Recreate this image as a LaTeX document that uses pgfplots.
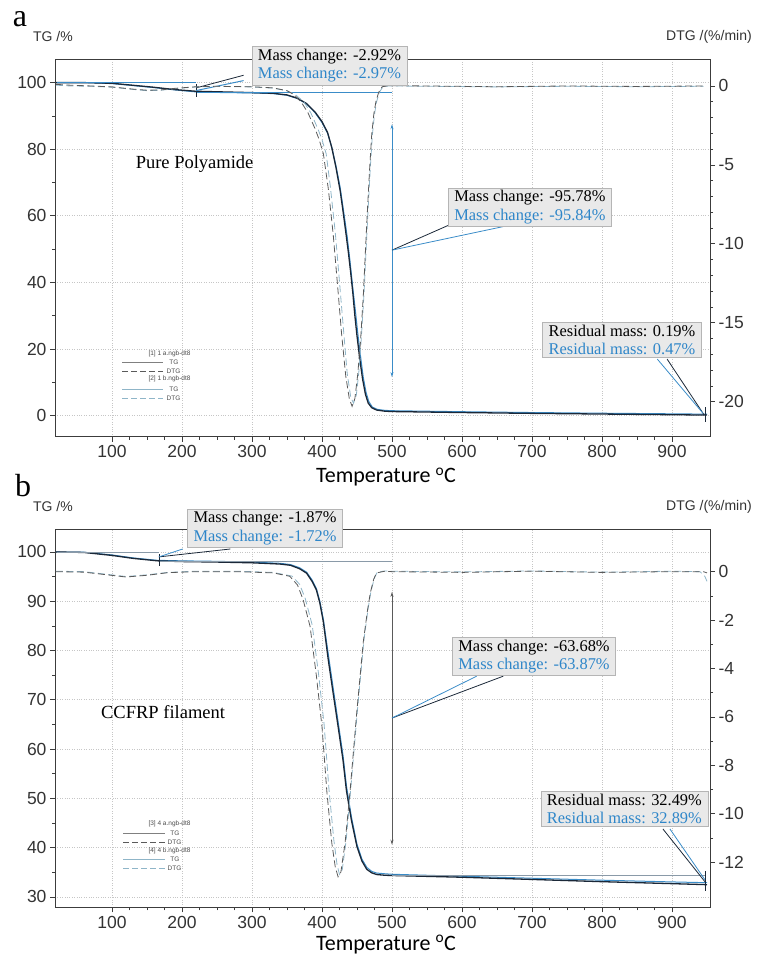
\documentclass[border=0pt]{standalone}
\usepackage{fontspec}
\setmainfont{Liberation Serif}
\setsansfont{Liberation Sans}
\newfontfamily\calibri{Carlito}
\usepackage{pgfplots}
\pgfplotsset{compat=1.18}
\usetikzlibrary{arrows.meta}

\definecolor{tgk}{HTML}{1B2838}
\definecolor{tgb}{HTML}{3A8CC8}
\definecolor{dtgk}{HTML}{5A5A5A}
\definecolor{dtgb}{HTML}{8FB5C8}
\definecolor{anb}{HTML}{2E86C9}
\definecolor{boxf}{HTML}{E9E9E9}
\definecolor{boxd}{HTML}{B5B5B5}
\definecolor{axc}{HTML}{3C3C3C}
\definecolor{lvl}{HTML}{8A9AA8}

\pgfplotsset{
  common/.style={scale only axis, width=655pt, xmin=18.6, xmax=954.3, clip=false,
    axis line style={axc, line width=0.9pt}, tick style={axc, line width=0.7pt},
    tick align=outside, major tick length=5pt, minor tick length=3pt,
    ticklabel style={font=\sffamily\fontsize{17.5}{17.5}\selectfont, text=black!80},
    /pgf/number format/assume math mode=true},
  tgaxis/.style={common, xtick pos=bottom, ytick pos=left, xtick={100,200,...,900}, minor x tick num=3,
    grid=major, major grid style={dotted, gray!45, line width=0.7pt}},
  dtgaxis/.style={common, axis y line*=right, axis x line=none},
}
\tikzset{
  annbox/.style={draw=boxd, fill=boxf, line width=0.6pt, font=\fontsize{16.4}{18.5}\selectfont,
    align=left, inner xsep=6pt, inner ysep=2.5pt},
  legtxt/.style={font=\sffamily\fontsize{6.5}{7}\selectfont, text=black!70},
}

\begin{document}
\begin{tikzpicture}
\useasboundingbox (0,0) rectangle (756pt,958pt);

%% ---------------- panel a : pure polyamide
\begin{axis}[tgaxis, at={(55pt,521.3pt)}, anchor=south west, height=377.4pt,
  ymin=-6.3, ymax=107, ytick={0,20,...,100}, minor y tick num=1]
\addplot[tgb, line width=1pt] coordinates {
(20,100.0) (60,100.0) (100,99.7) (130,99.1) (160,98.5) (190,97.8) (220,97.2) (260,97.0) (300,96.9)
(330,96.7) (350,96.2) (365,95.2) (378,93.6) (390,91.0) (400,88.0) (408,84.8) (414,80.6) (420,75.0)
(426,68.5) (432,59.8) (436,53.8) (440,46.5) (444,38.5) (448,31) (451,25) (455,18) (459,11.5) (463,7)
(467,4.2) (472,2.6) (479,1.9) (490,1.6) (500,1.5) (600,1.2) (700,0.95) (800,0.75) (900,0.57) (950,0.47)};
\addplot[tgk, line width=1.3pt] coordinates {
(20,100.0) (60,100.0) (100,99.8) (130,99.2) (160,98.6) (190,97.9) (220,97.4) (260,97.2) (300,97.0)
(330,96.8) (350,96.3) (365,95.3) (378,93.7) (390,91.2) (400,88.3) (408,85.0) (414,80.5) (420,74.5)
(426,67.5) (430,61.5) (435,53.5) (438,48.5) (441,43) (444,37) (447,30) (450,24) (454,17) (458,11)
(462,6.5) (466,3.8) (471,2.4) (478,1.7) (490,1.35) (500,1.25) (600,0.95) (700,0.7) (800,0.5) (900,0.3) (950,0.19)};
% evaluation marks
\draw[tgb, line width=0.6pt] (axis cs:22,100) -- (axis cs:220,100);
\draw[tgb, line width=0.6pt] (axis cs:220,97.08) -- (axis cs:500,97.08);
\draw[tgk, line width=0.6pt] (axis cs:220,99.5) -- (axis cs:220,95.8);
\draw[tgb, line width=0.6pt, {Stealth[length=5pt,width=3pt]}-{Stealth[length=5pt,width=3pt]}] (axis cs:500,87.5) -- (axis cs:500,11.6);
\draw[tgk, line width=0.8pt] (axis cs:220,98.4) -- (axis cs:288,102.2);
\draw[tgb, line width=1pt] (axis cs:220,97.6) -- (axis cs:288,100.6);
\draw[tgk, line width=0.8pt] (axis cs:500,49.7) -- (axis cs:607,59.6);
\draw[tgb, line width=0.8pt] (axis cs:500,49.7) -- (axis cs:664,57.0);
\draw[tgk, line width=0.8pt] (axis cs:893,17.0) -- (axis cs:946,0.2);
\draw[tgb, line width=0.8pt] (axis cs:879,17.0) -- (axis cs:944,0.8);
\draw[tgk, line width=0.6pt] (axis cs:947,2.5) -- (axis cs:947,-1.8);
\node[font=\fontsize{18.5}{18.5}\selectfont] at (axis cs:218,75.5) {Pure Polyamide};
\coordinate (a1) at (axis cs:410.7,105.1);
\coordinate (a2) at (axis cs:697,62.6);
\coordinate (a3) at (axis cs:828.6,22.7);
\end{axis}
\begin{axis}[dtgaxis, at={(55pt,521.3pt)}, anchor=south west, height=377.4pt,
  ymin=-22.22, ymax=1.69, ytick={-20,-15,...,0}, minor y tick num=4]
\addplot[dtgb, line width=0.8pt, dash pattern=on 7pt off 3.5pt] coordinates {
(20,0.05) (40,0.0) (70,-0.02) (100,-0.08) (130,-0.22) (150,-0.3) (170,-0.27) (190,-0.17) (220,-0.06)
(250,-0.03) (300,-0.06) (330,-0.14) (350,-0.3) (362,-0.55) (374,-1.0) (384,-1.7) (394,-2.7) (400,-3.4)
(406,-4.3) (412,-6.4) (419,-9.3) (425,-12.4) (431,-15.6) (436,-18.2) (441,-19.7) (445,-20.1) (449,-19.6)
(452.5,-18.2) (456,-16.1) (460,-13.2) (463,-10.4) (466,-7.7) (469,-5.2) (472,-3.1) (475,-1.8) (478,-1.0)
(482,-0.4) (487,-0.05) (495,0.0) (550,-0.02) (650,-0.06) (750,-0.02) (850,-0.05) (945,-0.02)};
\addplot[dtgk, line width=0.8pt, dash pattern=on 7pt off 3.5pt] coordinates {
(20,0.1) (40,0.05) (70,0.0) (100,-0.06) (130,-0.2) (150,-0.27) (170,-0.25) (190,-0.15) (220,-0.05)
(250,-0.02) (300,-0.05) (330,-0.12) (350,-0.3) (360,-0.55) (370,-1.0) (380,-1.7) (390,-2.7) (396,-3.4)
(402,-4.3) (409,-6.5) (416,-9.4) (422,-12.5) (428,-15.7) (434,-18.4) (439,-19.8) (443,-20.3) (447,-19.8)
(451,-18.3) (455,-16.2) (459,-13.3) (462,-10.5) (465,-7.8) (468,-5.3) (471,-3.1) (474,-1.8) (477,-1.0)
(481,-0.4) (486,-0.05) (495,0.02) (550,0.0) (650,-0.05) (750,0.0) (850,-0.03) (945,0.0)};
\end{axis}

%% ---------------- panel b : CCFRP filament
\begin{axis}[tgaxis, at={(55pt,50.7pt)}, anchor=south west, height=378pt,
  ymin=27.9, ymax=104.6, ytick={30,40,...,100}, minor y tick num=1]
\addplot[tgb, line width=1pt] coordinates {
(20,100) (60,99.95) (100,99.4) (130,98.8) (165,98.3) (200,98.2) (250,98.1) (300,97.95) (340,97.7)
(355,97.45) (368,96.8) (378,95.9) (386,94.3) (392,92.6) (397,90.0) (402,86.3) (409,79.3) (416,72.4)
(423,65.6) (430,58.8) (435,52.5) (442,46.3) (450,40.7) (457,37.7) (464,36.0) (471,35.2) (478,34.85)
(490,34.7) (500,34.6) (600,34.2) (700,33.8) (800,33.4) (900,33.05) (950,32.89)};
\addplot[tgk, line width=1.3pt] coordinates {
(20,100) (60,99.9) (100,99.3) (130,98.7) (165,98.2) (200,98.05) (250,97.95) (300,97.8) (340,97.55)
(355,97.3) (368,96.6) (378,95.7) (386,94.0) (392,92.3) (397,89.6) (402,85.8) (409,78.1) (416,71.3)
(423,64.6) (430,57.8) (435,51.5) (442,45.6) (450,40.2) (457,37.3) (464,35.6) (471,34.9) (478,34.55)
(490,34.4) (500,34.35) (600,34.0) (700,33.55) (800,33.1) (900,32.7) (950,32.49)};
% evaluation marks
\draw[lvl, line width=0.8pt] (axis cs:22,100) -- (axis cs:167,100);
\draw[lvl, line width=1pt] (axis cs:167,98.15) -- (axis cs:500,98.15);
\draw[lvl, line width=0.6pt] (axis cs:500,34.35) -- (axis cs:948,34.35);
\draw[tgk, line width=0.6pt] (axis cs:167,99.5) -- (axis cs:167,97.2);
\draw[dtgk, line width=0.6pt, {Stealth[length=5pt,width=3pt]}-{Stealth[length=5pt,width=3pt]}] (axis cs:500,91.9) -- (axis cs:500,40.6);
\draw[tgk, line width=0.8pt] (axis cs:167,99.0) -- (axis cs:269,100.6);
\draw[tgb, line width=0.8pt] (axis cs:167,99.0) -- (axis cs:201,100.6);
\draw[tgk, line width=0.8pt] (axis cs:500,66.3) -- (axis cs:659,74.8);
\draw[tgb, line width=0.8pt] (axis cs:500,66.3) -- (axis cs:621,74.8);
\draw[tgk, line width=0.8pt] (axis cs:887,43.8) -- (axis cs:947,33.1);
\draw[tgb, line width=0.8pt] (axis cs:897,43.8) -- (axis cs:947,33.5);
\draw[tgk, line width=0.6pt] (axis cs:947,35.2) -- (axis cs:947,31.3);
\node[font=\fontsize{18.5}{18.5}\selectfont] at (axis cs:173,67.6) {CCFRP filament};
\coordinate (b1) at (axis cs:318.6,104.8);
\coordinate (b2) at (axis cs:702.9,78.8);
\coordinate (b3) at (axis cs:832,47.9);
\end{axis}
\begin{axis}[dtgaxis, at={(55pt,50.7pt)}, anchor=south west, height=378pt,
  ymin=-13.86, ymax=1.75, ytick={-12,-10,...,0}, minor y tick num=1]
\addplot[dtgb, line width=0.8pt, dash pattern=on 7pt off 3.5pt] coordinates {
(20,0.02) (60,0.0) (90,-0.1) (120,-0.2) (150,-0.13) (180,-0.03) (220,0.02) (280,0.02) (330,-0.03)
(357,-0.18) (368,-0.52) (376,-1.1) (386,-2.2) (395,-4.2) (403,-6.3) (410,-9.0) (417,-11.1) (421.5,-12.1)
(425,-12.5) (429,-12.3) (434.5,-11.1) (441,-9.0) (451,-5.6) (460,-2.8) (466,-1.5) (470,-0.8) (475,-0.25)
(479,-0.02) (490,0.03) (500,0.02) (600,-0.01) (700,0.03) (800,-0.02) (900,0.02) (940,0.0) (947,-0.2) (950,-0.4)};
\addplot[dtgk, line width=0.8pt, dash pattern=on 7pt off 3.5pt] coordinates {
(20,0.0) (60,-0.02) (90,-0.12) (120,-0.22) (150,-0.15) (180,-0.04) (220,0.0) (280,0.0) (330,-0.05)
(354,-0.19) (365,-0.55) (373,-1.15) (383,-2.26) (392,-4.3) (400,-6.4) (407,-9.1) (414,-11.2) (419,-12.2)
(423,-12.6) (427,-12.4) (433,-11.2) (440,-9.1) (450,-5.7) (459,-2.9) (465,-1.6) (469,-0.88) (474,-0.3)
(478,-0.05) (490,0.02) (500,0.0) (600,-0.03) (700,0.02) (800,-0.03) (900,0.0) (945,0.0) (950,-0.05)};
\end{axis}

%% ---------------- annotation boxes
\node[annbox] at (a1) {Mass change: -2.92\%\\\textcolor{anb}{Mass change: -2.97\%}};
\node[annbox] at (a2) {Mass change: -95.78\%\\\textcolor{anb}{Mass change: -95.84\%}};
\node[annbox] at (a3) {Residual mass: 0.19\%\\\textcolor{anb}{Residual mass: 0.47\%}};
\node[annbox] at (b1) {Mass change: -1.87\%\\\textcolor{anb}{Mass change: -1.72\%}};
\node[annbox] at (b2) {Mass change: -63.68\%\\\textcolor{anb}{Mass change: -63.87\%}};
\node[annbox] at (b3) {Residual mass: 32.49\%\\\textcolor{anb}{Residual mass: 32.89\%}};

%% ---------------- labels
\node[anchor=base, font=\fontsize{32}{32}\selectfont] at (20pt,931.3pt) {a};
\node[anchor=base, font=\fontsize{32}{32}\selectfont] at (23pt,461.3pt) {b};
\node[font=\sffamily\fontsize{14}{14}\selectfont, text=black!80] at (53pt,921pt) {TG /\%};
\node[font=\sffamily\fontsize{14}{14}\selectfont, text=black!80] at (709pt,921pt) {DTG /(\%/min)};
\node[font=\sffamily\fontsize{14}{14}\selectfont, text=black!80] at (53pt,451pt) {TG /\%};
\node[font=\sffamily\fontsize{14}{14}\selectfont, text=black!80] at (709pt,451pt) {DTG /(\%/min)};
\node[anchor=base, font=\calibri\fontsize{22}{22}\selectfont] at (386pt,475pt) {Temperature \textsuperscript{o}C};
\node[anchor=base, font=\calibri\fontsize{22}{22}\selectfont] at (386pt,8pt) {Temperature \textsuperscript{o}C};

%% ---------------- small legends
\node[legtxt, anchor=east] at (194pt,604pt) {[1] 1 a.ngb-dt8};
\draw[gray, line width=0.7pt] (122pt,596pt) -- (163pt,596pt);
\node[legtxt, anchor=east] at (182pt,596pt) {TG};
\draw[dtgk, line width=0.7pt, dash pattern=on 6pt off 3pt] (122pt,587pt) -- (163pt,587pt);
\node[legtxt, anchor=east] at (184pt,587pt) {DTG};
\node[legtxt, anchor=east] at (194pt,579pt) {[2] 1 b.ngb-dt8};
\draw[dtgb, line width=0.7pt] (122pt,569pt) -- (163pt,569pt);
\node[legtxt, anchor=east] at (182pt,569pt) {TG};
\draw[dtgb, line width=0.7pt, dash pattern=on 6pt off 3pt] (122pt,560pt) -- (163pt,560pt);
\node[legtxt, anchor=east] at (184pt,560pt) {DTG};

\node[legtxt, anchor=east] at (194pt,134pt) {[3] 4 a.ngb-dt8};
\draw[gray, line width=0.7pt] (123pt,125pt) -- (165pt,125pt);
\node[legtxt, anchor=east] at (183pt,125pt) {TG};
\draw[dtgk, line width=0.7pt, dash pattern=on 6pt off 3pt] (123pt,116pt) -- (165pt,116pt);
\node[legtxt, anchor=east] at (185pt,116pt) {DTG};
\node[legtxt, anchor=east] at (194pt,107pt) {[4] 4 b.ngb-dt8};
\draw[dtgb, line width=0.7pt] (123pt,99pt) -- (165pt,99pt);
\node[legtxt, anchor=east] at (183pt,99pt) {TG};
\draw[dtgb, line width=0.7pt, dash pattern=on 6pt off 3pt] (123pt,90pt) -- (165pt,90pt);
\node[legtxt, anchor=east] at (185pt,90pt) {DTG};
\end{tikzpicture}
\end{document}
